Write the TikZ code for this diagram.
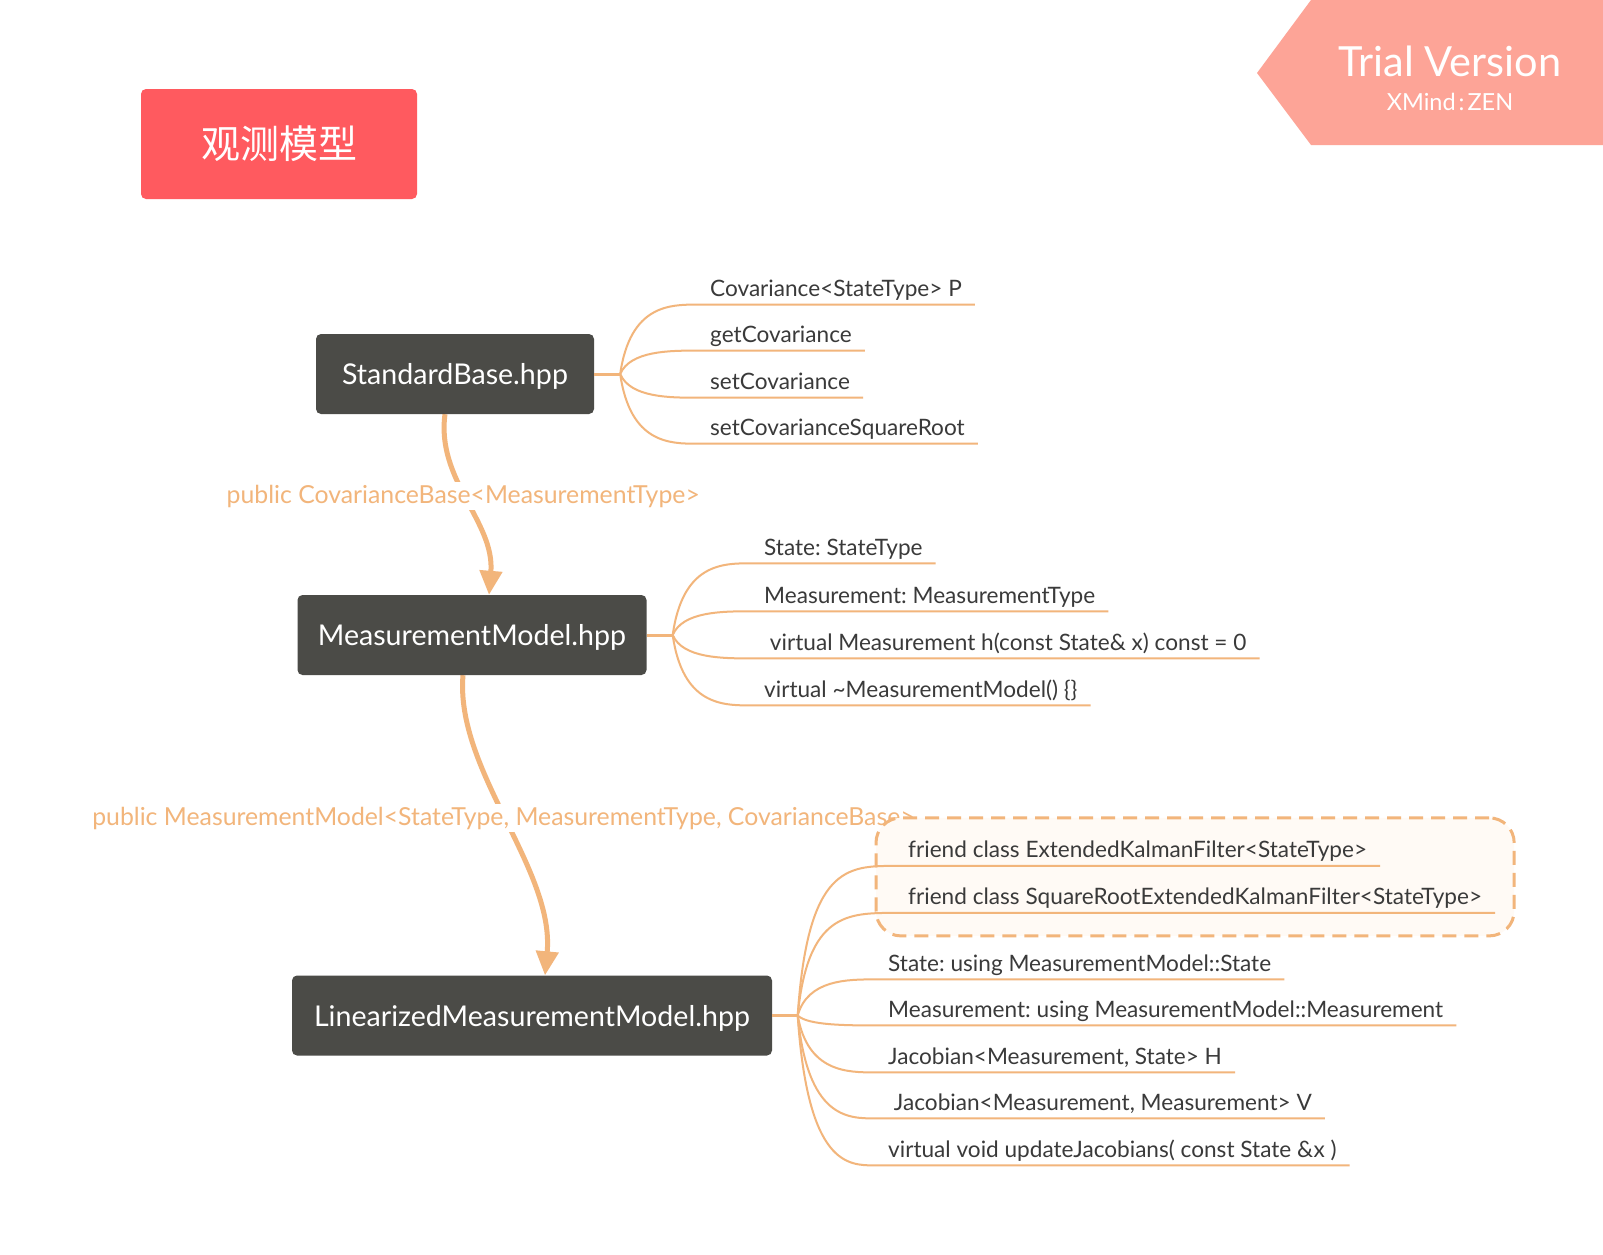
\documentclass[tikz,border=0pt]{standalone}
\usepackage{fontspec}
\setmainfont{Lato}
\newfontfamily\cjkfont{Noto Sans CJK SC}
\usetikzlibrary{positioning}
\usetikzlibrary{arrows.meta}
\usetikzlibrary{calc}
\usetikzlibrary{fit}
\usetikzlibrary{backgrounds}
\definecolor{boxgray}{HTML}{4B4B47}
\definecolor{titlered}{HTML}{FF5A5F}
\definecolor{trialpink}{HTML}{FDA497}
\definecolor{linkorange}{HTML}{F2B57B}
\definecolor{textgray}{HTML}{3A3A3A}
\definecolor{groupfill}{HTML}{FFFAF5}
\frenchspacing
\tikzset{
    topic/.style = {rectangle, rounded corners=5pt, fill=boxgray, text=white, minimum height=80pt, text depth=0pt, font=\fontsize{28.6}{32}\selectfont},
    titlebox/.style = {rectangle, rounded corners=5pt, fill=titlered, text=white, minimum width=276pt, minimum height=110pt, font=\cjkfont\fontsize{39}{44}\selectfont},
    leaf/.style = {anchor=south west, inner xsep=13pt, inner ysep=0pt, text depth=8pt, text=textgray, font=\fontsize{22.6}{26}\selectfont},
    branch/.style = {draw=linkorange, line width=2pt},
    stub/.style = {draw=linkorange, line width=3pt},
    edgeo/.style = {-{Triangle[length=24pt,width=22pt]}, line width=5pt, draw=linkorange}, % inheritance
    lbl/.style = {fill=white, text=linkorange, inner sep=3pt, font=\fontsize{24.8}{28}\selectfont},
    groupbox/.style = {draw=linkorange, line width=3pt, dash pattern=on 14pt off 8pt, rounded corners=25pt, fill=groupfill}
}

\begin{document}
\begin{tikzpicture}[x=1pt, y=-1pt]
  \useasboundingbox (0,0) rectangle (1603,1255);

  % trial banner
  \fill[trialpink] (1257,73) -- (1311,0) -- (1603,0) -- (1603,145) -- (1311,145) -- cycle;
  \node[text=white, font=\fontsize{41.5}{46}\selectfont] (trial) at (1450,61) {Trial Version};
  \node[text=white, font=\fontsize{23.5}{27}\selectfont] (xmind) at (1450,102) {XMind\kern3pt:\kern3pt ZEN};

  \node[titlebox] (title) at (279,144) {观测模型};

  \node[topic, minimum width=278pt] (sb) at (455,374) {StandardBase.hpp};
  \node[topic, minimum width=349pt] (mm) at (472,635) {MeasurementModel.hpp};
  \node[topic, minimum width=480pt] (lin) at (532,1015.5) {LinearizedMeasurementModel.hpp};

  \coordinate[right=26pt of sb] (ja);
  \coordinate[right=26pt of mm] (jb);
  \coordinate[right=25.5pt of lin] (jc);

  \node[leaf] (a1) at (697,304.6) {Covariance<StateType> P};
  \node[leaf] (a2) at (697,350.6) {getCovariance};
  \node[leaf] (a3) at (697,397.7) {setCovariance};
  \node[leaf] (a4) at (697,443.7) {setCovarianceSquareRoot};

  \node[leaf] (b1) at (751,563.3) {State: StateType};
  \node[leaf] (b2) at (751,611.3) {Measurement: MeasurementType};
  \node[leaf] (b3) at (751,658.4) {\ virtual Measurement h(const State\& x) const = 0};
  \node[leaf] (b4) at (751,705.4) {virtual \textasciitilde MeasurementModel() \{\}};

  \node[leaf] (c1) at (895,865.9) {friend class ExtendedKalmanFilter<StateType>};
  \node[leaf] (c2) at (895,912.9) {friend class SquareRootExtendedKalmanFilter<StateType>};
  \node[leaf] (c3) at (875,979.4) {State: using MeasurementModel::State};
  \node[leaf] (c4) at (875,1025.4) {Measurement: using MeasurementModel::Measurement};
  \node[leaf] (c5) at (875,1072.4) {Jacobian<Measurement, State> H};
  \node[leaf] (c6) at (875,1118.4) {\ Jacobian<Measurement, Measurement> V};
  \node[leaf] (c7) at (875,1165.4) {virtual void updateJacobians( const State \&x )};

  \begin{scope}[on background layer]
    \fill[white] (0,0) rectangle (1603,1255);
    \draw[edgeo] ([xshift=-10pt]sb.south) .. controls +(-9,66) and +(6,-73) .. ([xshift=17pt]mm.north)
      node[lbl, pos=0.465] {public CovarianceBase<MeasurementType>};
    \draw[edgeo] ([xshift=-9pt]mm.south) .. controls +(-8,95) and +(10,-106) .. ([xshift=13pt]lin.north)
      node[lbl, pos=0.49] {public MeasurementModel<StateType, MeasurementType, CovarianceBase>};
    \node[groupbox, fit=(c1)(c2), inner xsep=19pt, inner ysep=23pt] (grp) {};
  \end{scope}

  \draw[stub] (sb.east) -- (ja);
  \draw[stub] (mm.east) -- (jb);
  \draw[stub] (lin.east) -- (jc);

  \foreach \n in {a1,a2,a3,a4}
    \draw[branch] (ja) .. controls ($(ja |- \n.south west)+(10,0)$) and ($(ja |- \n.south west)+(50,0)$) .. (\n.south west) -- (\n.south east);
  \foreach \n in {b1,b2,b3,b4}
    \draw[branch] (jb) .. controls ($(jb |- \n.south west)+(10,0)$) and ($(jb |- \n.south west)+(50,0)$) .. (\n.south west) -- (\n.south east);
  \foreach \n in {c1,c2,c3,c4,c5,c6,c7}
    \draw[branch] (jc) .. controls ($(jc |- \n.south west)+(10,0)$) and ($(jc |- \n.south west)+(50,0)$) .. (\n.south west) -- (\n.south east);

\end{tikzpicture}
\end{document}
